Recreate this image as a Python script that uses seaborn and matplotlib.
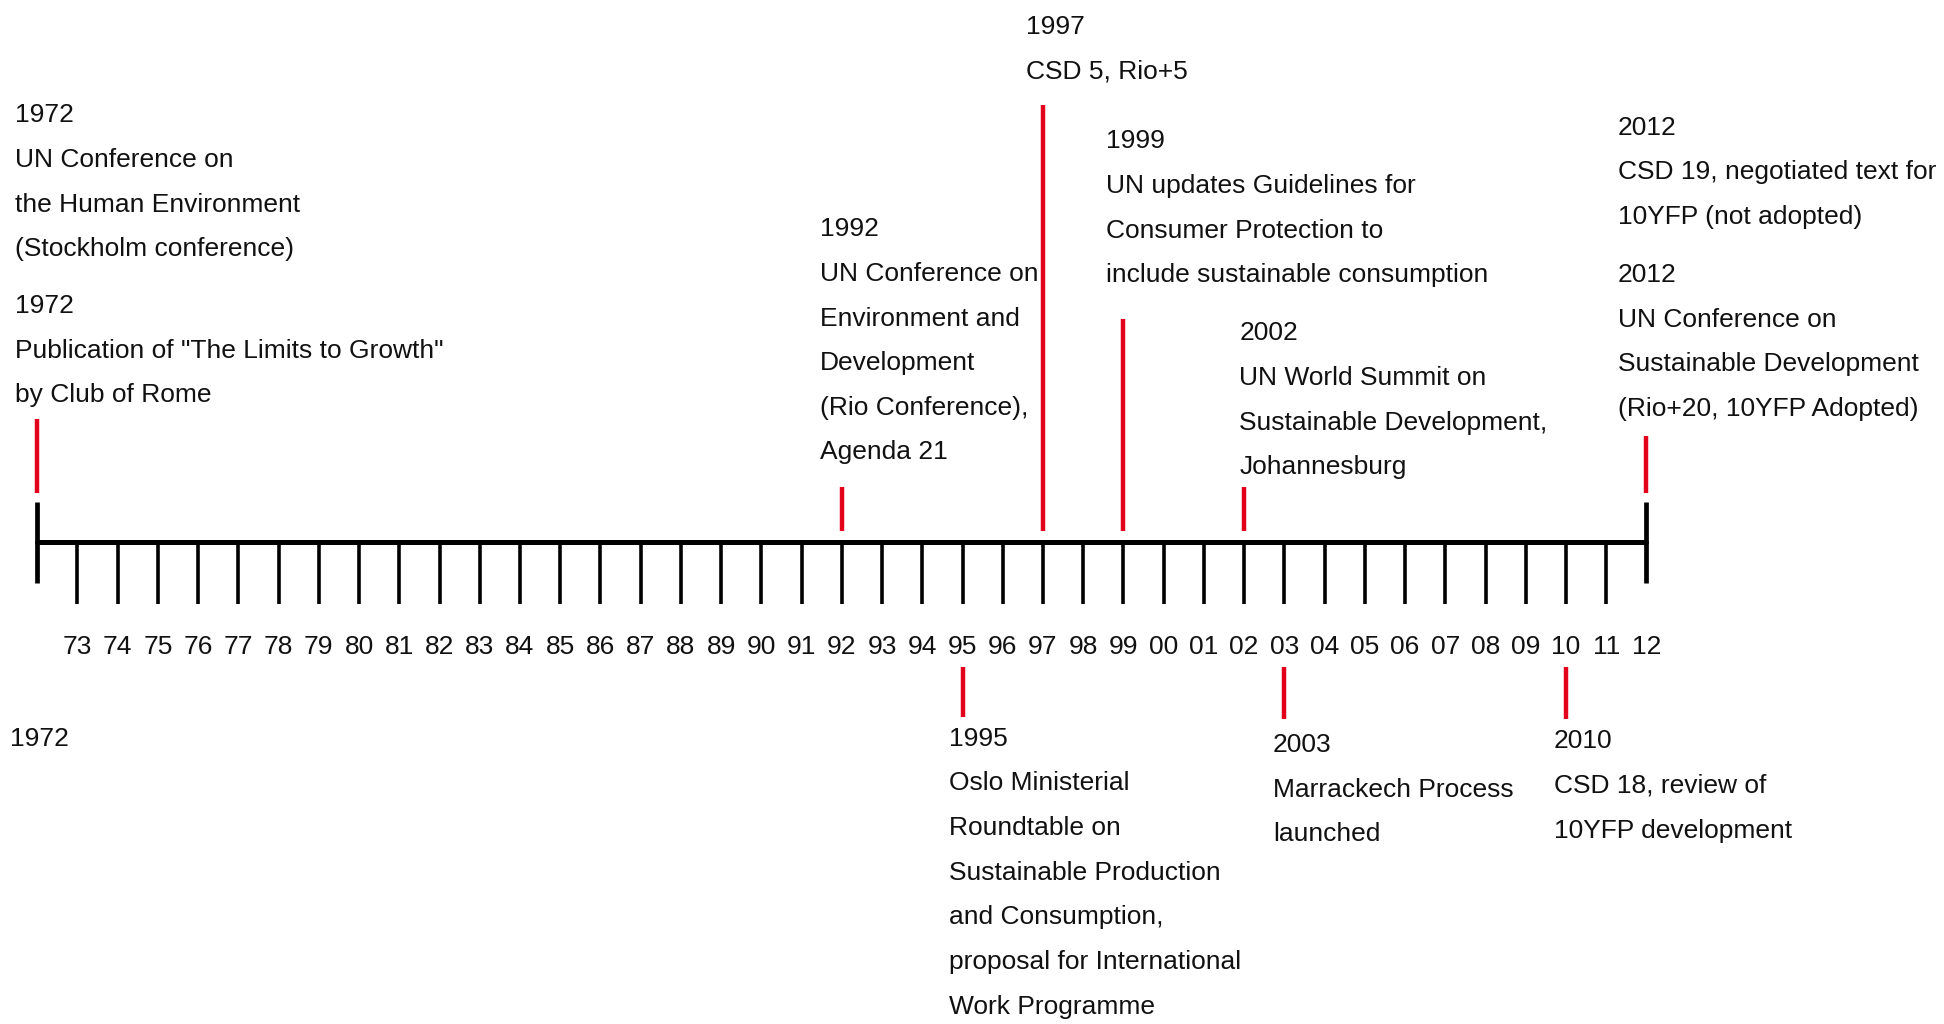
import numpy as np
import matplotlib
matplotlib.use("Agg")
import matplotlib.pyplot as plt
import seaborn as sns
from matplotlib import font_manager

# timeline range
start_year = 1972
end_year = 2012
tick_years = list(range(1973, 2013))
tick_labels = [f"{y % 100:02d}" for y in tick_years]

# events above the line
up_years = [1972, 1972, 1992, 1997, 1999, 2002, 2012, 2012]
up_texts = [
    "1972\nUN Conference on\nthe Human Environment\n(Stockholm conference)",
    "1972\nPublication of \"The Limits to Growth\"\nby Club of Rome",
    "1992\nUN Conference on\nEnvironment and\nDevelopment\n(Rio Conference),\nAgenda 21",
    "1997\nCSD 5, Rio+5",
    "1999\nUN updates Guidelines for\nConsumer Protection to\ninclude sustainable consumption",
    "2002\nUN World Summit on\nSustainable Development,\nJohannesburg",
    "2012\nCSD 19, negotiated text for\n10YFP (not adopted)",
    "2012\nUN Conference on\nSustainable Development\n(Rio+20, 10YFP Adopted)",
]

# events below the line
down_years = [1995, 2003, 2010]
down_texts = [
    "1995\nOslo Ministerial\nRoundtable on\nSustainable Production\nand Consumption,\nproposal for International\nWork Programme",
    "2003\nMarrackech Process\nlaunched",
    "2010\nCSD 18, review of\n10YFP development",
]

# red stems (year, top, bottom) in layout units
stem_years = [1972, 1992, 1997, 1999, 2002, 2012, 1995, 2003, 2010]
stem_top = [99, 44, 352, 180, 44, 85, -101, -101, -101]
stem_bot = [39, 9, 9, 9, 9, 39, -141, -143, -143]

# text layout: x offset (years) and first-line y
up_dx = [-0.55, -0.55, -0.55, -0.43, -0.43, -0.12, -0.71, -0.71]
up_y = [344, 190, 252, 415, 323, 168, 334, 215]
down_dx = [-0.34, -0.28, -0.31]
down_y = [-159, -164, -161]

sns.set_theme(style="white")
names = {f.name for f in font_manager.fontManager.ttflist}
if "Liberation Sans Narrow" in names:
    plt.rcParams["font.family"] = ["Liberation Sans Narrow", "DejaVu Sans"]
    fs = 21
else:
    plt.rcParams["font.family"] = ["Liberation Sans", "DejaVu Sans"]
    fs = 19

px_per_year = 32.45
fig = plt.figure(figsize=(19.44, 10.24), dpi=100)
ax = fig.add_axes([0, 0, 1, 1])
ax.set_xlim(start_year - 30 / px_per_year, end_year + 240 / px_per_year)
ax.set_ylim(-389, 437)
ax.axis("off")

red = "#e2001a"
line_step = 36


def block(x, y, text):
    for i, line in enumerate(text.split("\n")):
        ax.text(x, y - i * line_step, line, fontsize=fs, color="#111111",
                ha="left", va="center")


# main line
sns.lineplot(x=[start_year, end_year], y=[0, 0], color="black", lw=3.6, ax=ax)
ax.vlines([start_year, end_year], -33, 32, color="black", lw=3.4)
ax.vlines(tick_years[:-1], -50, 0, color="black", lw=2.6)
for y, lab in zip(tick_years, tick_labels):
    ax.text(y, -85, lab, fontsize=fs, ha="center", va="center", color="#111111")

ax.vlines(stem_years, stem_bot, stem_top, color=red, lw=3.2)

for yr, t, dx, yy in zip(up_years, up_texts, up_dx, up_y):
    block(yr + dx, yy, t)
for yr, t, dx, yy in zip(down_years, down_texts, down_dx, down_y):
    block(yr + dx, yy, t)
block(start_year - 22 / px_per_year, -159, "1972")

fig.savefig("out.png", dpi=100)
